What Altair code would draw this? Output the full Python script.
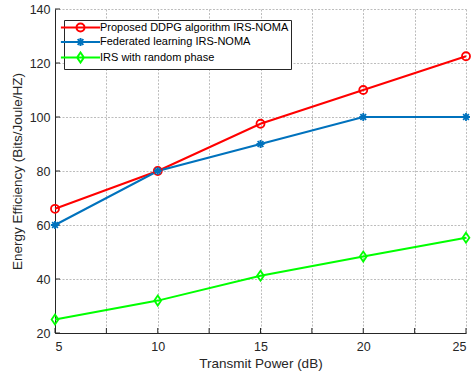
import altair as alt
import pandas as pd

# Energy efficiency versus transmit power for the three schemes
power_db = [5, 10, 15, 20, 25]
ddpg_ee = [66, 80, 97.5, 110, 122.5]
federated_ee = [60, 80, 90, 100, 100]
random_phase_ee = [25, 32, 41.2, 48.3, 55.3]

series_names = [
    "Proposed DDPG algorithm IRS-NOMA",
    "Federated learning IRS-NOMA",
    "IRS with random phase",
]
series_colors = ["#ff0000", "#0072bd", "#00ff00"]

x_ticks = [5, 7.5, 10, 12.5, 15, 17.5, 20, 22.5, 25]
y_ticks = [20, 40, 60, 80, 100, 120, 140]

# Marker outlines (unit space) and legend glyphs (line through the marker)
circle_path = "M1,0A1,1 0 1,1 -1,0A1,1 0 1,1 1,0Z"
star_path = "M-1,0L1,0M0,-1L0,1M-0.72,-0.72L0.72,0.72M-0.72,0.72L0.72,-0.72"
diamond_path = "M0,-1.25L0.85,0L0,1.25L-0.85,0Z"
marker_paths = [circle_path, star_path, diamond_path]
legend_paths = ["M-4.9,0L4.9,0" + p for p in marker_paths]

rows = []
for name, values in zip(series_names, [ddpg_ee, federated_ee, random_phase_ee]):
    for p, v in zip(power_db, values):
        rows.append({"series": name, "power": p, "ee": v})
df = pd.DataFrame(rows)

W, H = 411, 324

x_enc = alt.X(
    "power:Q",
    title="Transmit Power (dB)",
    scale=alt.Scale(domain=[5, 25], nice=False, zero=False),
    axis=alt.Axis(
        values=x_ticks,
        labelExpr="datum.value % 5 == 0 ? datum.label : ''",
        tickSize=0,
        labelPadding=7,
        titlePadding=4,
    ),
)
y_enc = alt.Y(
    "ee:Q",
    title="Energy Efficiency (Bits/Joule/HZ)",
    scale=alt.Scale(domain=[20, 140], nice=False, zero=False),
    axis=alt.Axis(values=y_ticks, tickSize=0, labelPadding=5, titlePadding=5),
)
color_scale = alt.Scale(domain=series_names, range=series_colors)

lines = alt.Chart(df).mark_line(strokeWidth=2).encode(
    x=x_enc,
    y=y_enc,
    color=alt.Color("series:N", scale=color_scale, legend=None),
)

markers = alt.Chart(df).mark_point(filled=False, size=64, strokeWidth=1.8, opacity=1).encode(
    x="power:Q",
    y="ee:Q",
    color=alt.Color("series:N", scale=color_scale, legend=None),
    shape=alt.Shape(
        "series:N",
        scale=alt.Scale(domain=series_names, range=marker_paths),
        legend=None,
    ),
)

legend_cfg = dict(
    title=None,
    orient="none",
    legendX=9,
    legendY=11,
    padding=2,
    symbolOffset=9,
    labelOffset=14,
    symbolSize=64,
    symbolStrokeWidth=2,
    symbolOpacity=1,
    labelFontSize=11,
    labelColor="#000000",
    labelExpr="datum.label + '\u00a0\u00a0'",
    rowPadding=-2.5,
    strokeColor="#262626",
    fillColor="#ffffff",
    labelLimit=400,
)

legend_layer = alt.Chart(df).mark_point(filled=False, size=64, opacity=0).encode(
    x="power:Q",
    y="ee:Q",
    stroke=alt.Stroke("series:N", scale=color_scale, legend=alt.Legend(**legend_cfg)),
    shape=alt.Shape(
        "series:N",
        scale=alt.Scale(domain=series_names, range=legend_paths),
        legend=alt.Legend(**legend_cfg),
    ),
)

# Inward tick marks along the bottom and left axes
x_tick_df = pd.DataFrame({"power": x_ticks})
y_tick_df = pd.DataFrame({"ee": y_ticks})
x_tick_marks = alt.Chart(x_tick_df).mark_rule(color="#262626", strokeWidth=1).encode(
    x="power:Q", y=alt.value(H), y2=alt.value(H - 5)
)
y_tick_marks = alt.Chart(y_tick_df).mark_rule(color="#262626", strokeWidth=1).encode(
    y="ee:Q", x=alt.value(0), x2=alt.value(5)
)

chart = (
    alt.layer(x_tick_marks, y_tick_marks, lines, markers, legend_layer)
    .resolve_scale(shape="independent", stroke="independent")
    .resolve_legend(shape="independent", stroke="independent")
    .properties(
        width=W,
        height=H,
        autosize=alt.AutoSizeParams(type="none"),
        padding={"left": 55, "top": 9, "right": 6, "bottom": 43},
        background="#ffffff",
    )
    .configure(font="Liberation Sans")
    .configure_view(stroke=None)
    .configure_axis(
        domainColor="#262626",
        domainWidth=1,
        labelColor="#262626",
        labelFontSize=12.5,
        titleColor="#262626",
        titleFontSize=13.5,
        titleFontWeight="normal",
        grid=True,
        gridColor="#bdbdbd",
        gridDash=[2, 1.5],
        gridWidth=1,
    )
)

chart.save("out.html", embed_options={"renderer": "svg", "actions": False})
